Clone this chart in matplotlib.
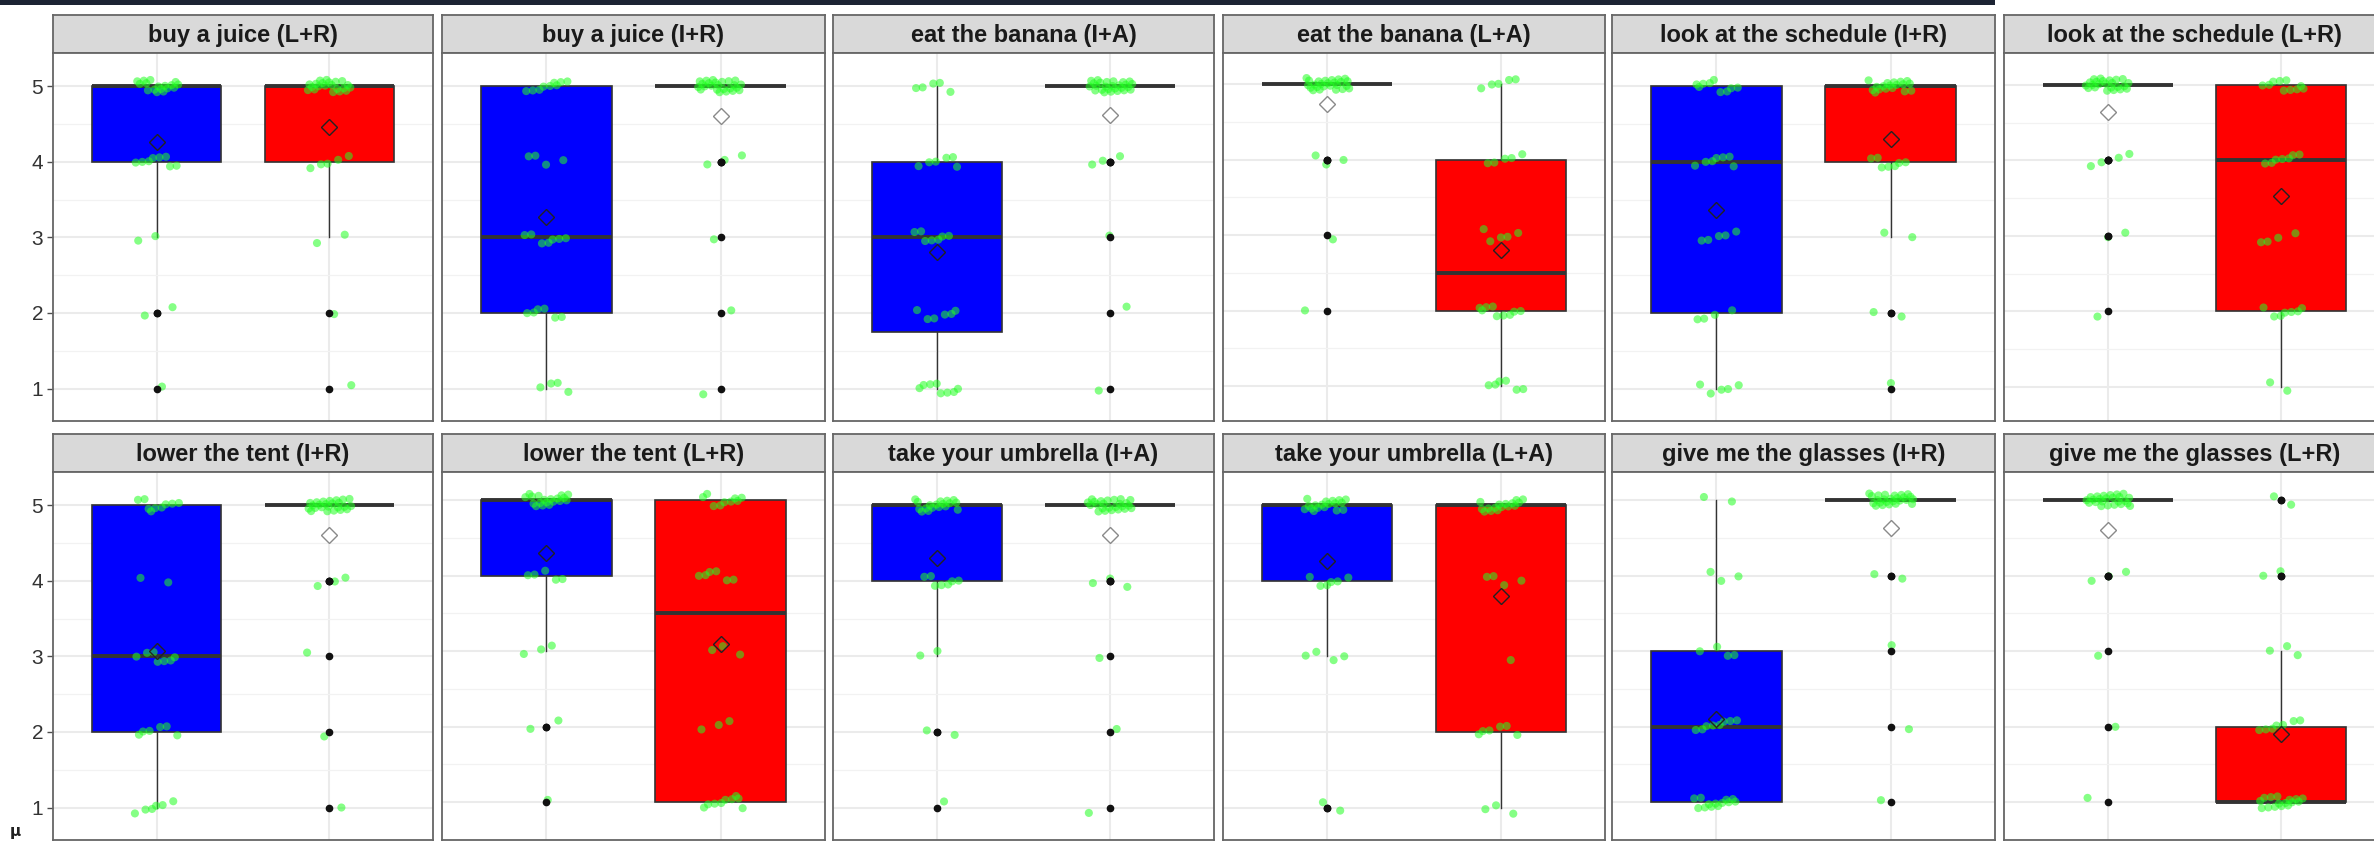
import numpy as np
import matplotlib.pyplot as plt

# facet titles, two rows of six
titles = ['buy a juice (L+R)', 'buy a juice (I+R)', 'eat the banana (I+A)',
          'eat the banana (L+A)', 'look at the schedule (I+R)', 'look at the schedule (L+R)',
          'lower the tent (I+R)', 'lower the tent (L+R)', 'take your umbrella (I+A)',
          'take your umbrella (L+A)', 'give me the glasses (I+R)', 'give me the glasses (L+R)']

levels = [1, 2, 3, 4, 5]

# number of answers at rating 1..5, first group (blue box) of each facet
counts_blue = [[1, 2, 2, 8, 17], [4, 6, 7, 4, 9], [8, 6, 7, 6, 5],
               [0, 1, 1, 3, 25], [5, 4, 5, 7, 9], [0, 1, 2, 4, 23],
               [6, 6, 7, 2, 9], [1, 2, 3, 5, 19], [1, 2, 2, 7, 18],
               [2, 0, 4, 6, 18], [13, 8, 4, 3, 2], [1, 1, 1, 3, 24]]

# same for the second group (red box)
counts_red = [[1, 1, 2, 5, 21], [1, 1, 1, 3, 24], [1, 1, 1, 3, 26],
              [6, 9, 5, 5, 5], [1, 2, 2, 7, 18], [2, 7, 4, 7, 10],
              [1, 1, 1, 3, 24], [9, 3, 3, 6, 9], [1, 1, 1, 3, 24],
              [3, 6, 1, 4, 16], [1, 1, 1, 2, 25], [16, 7, 3, 2, 2]]

box_colors = ['#0000FF', '#FF0000']

W, H = 2374, 842
fig = plt.figure(figsize=(W / 100, H / 100), dpi=100)
fig.patch.set_facecolor('white')

# panel layout in pixels
col_edges = [(53, 433), (442, 825), (833, 1214), (1223, 1605), (1612, 1995), (2004, 2385)]
row_edges = [(15, 53, 421), (434, 472, 840)]   # strip top, strip bottom, panel bottom
y_shift = [0, 0, 0, 0.03, 0, 0.02, 0, 0.07, 0, 0, 0.07, 0.07]


def px_box(x0, x1, y0, y1):
    return [x0 / W, 1 - y1 / H, (x1 - x0) / W, (y1 - y0) / H]


def jitter(n, seed_a, seed_b):
    k = np.arange(n) + 1
    dx = ((k * 0.6180339 + seed_a) % 1 - 0.5) * 0.26
    dy = ((k * 0.3819660 * 1.7 + seed_b) % 1 - 0.5) * 0.17
    return dx, dy


# dark bar along the top edge
fig.add_artist(plt.Rectangle((0, 1 - 5 / H), 1995 / W, 5 / H, transform=fig.transFigure,
                             color='#1c2333', lw=0))

for i, title in enumerate(titles):
    row, col = divmod(i, 6)
    x0, x1 = col_edges[col]
    st, sb, pb = row_edges[row]

    # strip with the facet title
    sax = fig.add_axes(px_box(x0, x1, st, sb))
    sax.set_facecolor('#D9D9D9')
    sax.set_xticks([])
    sax.set_yticks([])
    for s in sax.spines.values():
        s.set_color('#666666')
        s.set_linewidth(1.3)
    sax.text(0.5, 0.47, title, ha='center', va='center', fontsize=17, fontweight='bold',
             color='#1a1a1a', family='Liberation Sans', transform=sax.transAxes)

    ax = fig.add_axes(px_box(x0, x1, sb, pb))
    data = [np.repeat(levels, counts_blue[i]), np.repeat(levels, counts_red[i])]
    bp = ax.boxplot(data, positions=[1, 2], widths=0.75, patch_artist=True,
                    showcaps=False, showmeans=True,
                    boxprops=dict(edgecolor='#333333', linewidth=1.2),
                    whiskerprops=dict(color='#333333', linewidth=1.0),
                    medianprops=dict(color='#333333', linewidth=2.8),
                    flierprops=dict(marker='o', markerfacecolor='#111111',
                                    markeredgecolor='#111111', markersize=4.5, zorder=4),
                    meanprops=dict(marker='D', markersize=8.5, markerfacecolor='none',
                                   markeredgecolor='#222222', markeredgewidth=1.0, zorder=5))
    for j, patch in enumerate(bp['boxes']):
        patch.set_facecolor(box_colors[j])
        patch.set_zorder(2)
        q1, q3 = np.percentile(data[j], [25, 75])
        if q1 == q3:
            bp['means'][j].set_markerfacecolor('white')
            bp['means'][j].set_markeredgecolor('#8a8a8a')
    for ln in bp['medians'] + bp['whiskers']:
        ln.set_zorder(2.5)

    # jittered raw answers
    for j, vals in enumerate(data):
        dx, dy = jitter(len(vals), 0.13 * i + 0.37 * j, 0.29 * i + 0.11 * j)
        ax.scatter(j + 1 + dx, vals + dy, s=34, color='#22FF22', alpha=0.55,
                   edgecolors='none', zorder=3)

    ax.set_xlim(0.4, 2.6)
    ax.set_ylim(0.57 - y_shift[i], 5.44 - y_shift[i])
    ax.set_xticks([1, 2])
    ax.set_xticklabels([])
    ax.set_yticks(levels)
    ax.set_yticks([1.5, 2.5, 3.5, 4.5], minor=True)
    ax.grid(which='major', color='#EBEBEB', linewidth=1.5)
    ax.grid(which='minor', axis='y', color='#F2F2F2', linewidth=0.9)
    ax.set_axisbelow(True)
    ax.tick_params(axis='x', length=0)
    ax.tick_params(which='minor', length=0)
    if col == 0:
        ax.tick_params(axis='y', length=4, width=1, color='#4d4d4d', labelsize=15,
                       labelcolor='#333333', pad=3)
        for t in ax.get_yticklabels():
            t.set_family('Liberation Sans')
    else:
        ax.tick_params(axis='y', length=0, labelleft=False)
    for s in ax.spines.values():
        s.set_color('#666666')
        s.set_linewidth(1.3)

fig.text(10 / W, 1 - 836 / H, 'µ', fontsize=11, fontweight='bold', color='#222222')

fig.savefig('out.png', dpi=100)
